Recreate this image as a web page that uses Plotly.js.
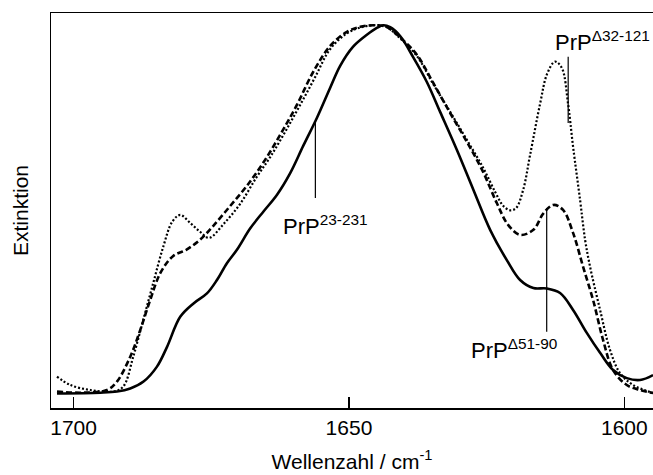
<!DOCTYPE html>
<html>
<head>
<meta charset="utf-8">
<script src="https://cdn.plot.ly/plotly-3.0.1.min.js"></script>
<style>html,body{margin:0;padding:0;background:#fff;}#chart{width:653px;height:475px;}</style>
</head>
<body>
<div id="chart"></div>
<script>
// Wavenumbers (cm^-1) and normalised extinction
const wnFull = [1703.01,1695.15,1692.12,1689.71,1687.30,1684.86,1683.05,1680.64,1678.22,1675.79,1673.97,1672.16,1670.34,1667.92,1665.52,1663.09,1660.67,1658.31,1655.83,1653.41,1651.60,1649.24,1646.75,1644.94,1643.79,1642.52,1640.71,1638.35,1635.86,1633.45,1630.42,1627.40,1624.37,1621.34,1618.93,1616.52,1614.08,1611.67,1609.31,1606.82,1604.41,1602.05,1599.56,1597.15,1594.79];
const extFull = [0.038,0.040,0.043,0.051,0.069,0.108,0.159,0.238,0.273,0.299,0.334,0.378,0.413,0.469,0.513,0.556,0.613,0.684,0.757,0.836,0.893,0.943,0.974,0.992,0.999,0.994,0.971,0.916,0.851,0.773,0.674,0.569,0.465,0.386,0.334,0.313,0.312,0.300,0.256,0.196,0.144,0.099,0.078,0.073,0.086];

const wnD51 = [1703.01,1698.24,1693.94,1692.12,1689.71,1687.89,1686.08,1684.26,1681.91,1679.55,1677.04,1674.66,1671.58,1668.53,1665.57,1662.49,1659.46,1656.50,1653.41,1650.38,1647.96,1645.60,1643.25,1640.71,1637.68,1634.72,1631.63,1628.60,1625.64,1623.16,1621.11,1618.93,1616.52,1614.70,1612.89,1611.13,1609.31,1607.50,1605.68,1603.87,1602.05,1599.56,1597.15,1594.79];
const extD51 = [0.043,0.040,0.047,0.069,0.134,0.204,0.282,0.352,0.397,0.413,0.439,0.475,0.527,0.580,0.640,0.713,0.791,0.877,0.945,0.982,0.995,0.999,0.995,0.967,0.922,0.849,0.770,0.695,0.616,0.535,0.478,0.452,0.465,0.508,0.530,0.517,0.457,0.369,0.282,0.178,0.099,0.060,0.047,0.039];

const wnD32 = [1703.01,1700.60,1696.97,1692.80,1690.98,1689.17,1687.35,1685.54,1683.72,1682.09,1680.64,1678.82,1677.04,1675.41,1672.78,1669.75,1666.84,1664.30,1661.58,1658.86,1656.13,1653.41,1650.38,1647.96,1645.60,1643.25,1640.71,1637.68,1634.72,1631.63,1628.60,1625.64,1623.46,1621.96,1620.74,1619.65,1618.38,1617.11,1615.30,1614.03,1612.58,1611.36,1610.22,1609.31,1608.04,1607.13,1606.23,1604.41,1602.59,1600.78,1598.42,1594.79];
const extD32 = [0.082,0.060,0.047,0.043,0.056,0.134,0.230,0.326,0.421,0.486,0.504,0.483,0.460,0.444,0.480,0.533,0.601,0.655,0.721,0.791,0.864,0.937,0.978,0.993,0.999,0.995,0.965,0.919,0.846,0.773,0.700,0.627,0.564,0.527,0.516,0.522,0.569,0.661,0.794,0.872,0.904,0.888,0.794,0.682,0.543,0.439,0.369,0.256,0.151,0.091,0.060,0.039];

const xTicks = [1700, 1650, 1600];
const xTickText = ['1700', '1650', '1600'];

// Label texts, their positions and pointer lines (data units)
const labelText = ['PrP<sup>23-231</sup>', 'PrP<sup>\u039451-90</sup>', 'PrP<sup>\u039432-121</sup>'];
const labelX = [1654.3, 1620.0, 1604.0];
const labelY = [0.478, 0.155, 0.958];
const pointerX = [1656.1, 1614.1, 1610.2];
const pointerY0 = [0.548, 0.522, 0.917];
const pointerY1 = [0.747, 0.199, 0.744];

const FONT = 'Liberation Sans, Arial, sans-serif';

const traces = [
  {x: wnFull, y: extFull, mode: 'lines', line: {color: '#000', width: 2.6, shape: 'spline', smoothing: 1}},
  {x: wnD51, y: extD51, mode: 'lines', line: {color: '#000', width: 2.6, dash: '6px,3px', shape: 'spline', smoothing: 1}},
  {x: wnD32, y: extD32, mode: 'lines', line: {color: '#000', width: 2.2, dash: '2px,2px', shape: 'spline', smoothing: 1}}
];

const annotations = labelText.map((t, i) => ({
  text: t, x: labelX[i], y: labelY[i], xref: 'x', yref: 'y',
  showarrow: false, xanchor: 'center', yanchor: 'middle',
  font: {family: FONT, size: 22, color: '#000'}
}));

const shapes = pointerX.map((px, i) => ({
  type: 'line', xref: 'x', yref: 'y', x0: px, x1: px, y0: pointerY0[i], y1: pointerY1[i],
  line: {color: '#000', width: 1.2}
}));

const layout = {
  width: 653, height: 475,
  margin: {l: 51, r: 0, t: 13, b: 67, pad: 0},
  paper_bgcolor: '#fff', plot_bgcolor: '#fff',
  showlegend: false,
  font: {family: FONT, size: 21, color: '#000'},
  xaxis: {
    range: [1704.1, 1594.8],
    tickvals: xTicks, ticktext: xTickText,
    ticks: 'inside', ticklen: 11, tickwidth: 1.2, tickcolor: '#000',
    showline: true, linecolor: '#000', linewidth: 1.5, mirror: true,
    showgrid: false, zeroline: false,
    tickfont: {family: FONT, size: 21, color: '#000'},
    title: {text: 'Wellenzahl / cm<sup>-1</sup>', font: {family: FONT, size: 21, color: '#000'}, standoff: 16}
  },
  yaxis: {
    range: [0, 1.031],
    showticklabels: false, ticks: '',
    showline: true, linecolor: '#000', linewidth: 1.5,
    showgrid: false, zeroline: false,
    title: {text: 'Extinktion', font: {family: FONT, size: 21, color: '#000'}, standoff: 15}
  },
  annotations: annotations,
  shapes: shapes
};

Plotly.newPlot('chart', traces, layout, {staticPlot: true, displayModeBar: false});
</script>
</body>
</html>
